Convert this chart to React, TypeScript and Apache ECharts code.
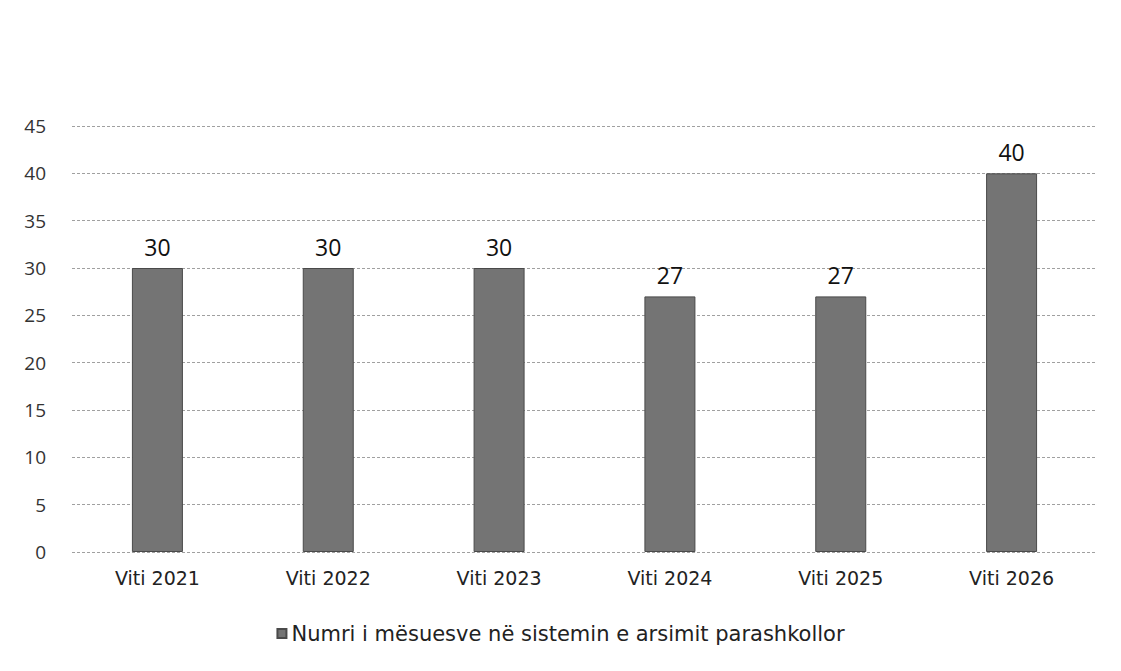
import React, { useEffect, useRef } from "react";
import * as echarts from "echarts";

const categories = ["Viti 2021", "Viti 2022", "Viti 2023", "Viti 2024", "Viti 2025", "Viti 2026"];
const values = [30, 30, 30, 27, 27, 40];
const seriesName = "Numri i mësuesve në sistemin e arsimit parashkollor";
const yMin = 0;
const yMax = 45;
const yInterval = 5;

export default function App() {
  const ref = useRef<HTMLDivElement>(null);
  useEffect(() => {
    document.body.style.margin = "0";
    const chart = echarts.init(ref.current!, null, { renderer: "svg" });
    chart.setOption({
      animation: false,
      backgroundColor: "#ffffff",
      textStyle: { fontFamily: "'Open Sans', sans-serif" },
      grid: { left: 72, right: 24, top: 126, bottom: 119, containLabel: false },
      xAxis: {
        type: "category",
        data: categories,
        axisLine: { show: false },
        axisTick: { show: false },
        axisLabel: { color: "#222", fontSize: 19, margin: 16, fontFamily: "'DejaVu Sans', sans-serif" },
      },
      yAxis: {
        type: "value",
        min: yMin,
        max: yMax,
        interval: yInterval,
        axisLine: { show: false },
        axisTick: { show: false },
        axisLabel: { color: "#333", fontSize: 19, margin: 26 },
        splitLine: { lineStyle: { color: "#a0a0a0", type: [3, 2], width: 1 } },
      },
      legend: {
        bottom: 22,
        left: "center",
        itemWidth: 9,
        itemHeight: 9,
        itemGap: 6,
        textStyle: { color: "#222", fontSize: 21, fontFamily: "'DejaVu Sans', sans-serif" },
        data: [{ name: seriesName, icon: "rect" }],
      },
      series: [
        {
          name: seriesName,
          type: "bar",
          data: values,
          barWidth: 51,
          itemStyle: { color: "#747474", borderColor: "#4a4a4a", borderWidth: 1 },
          label: {
            show: true,
            position: "top",
            distance: 10,
            color: "#111",
            fontSize: 23,
          },
        },
      ],
    });
    return () => chart.dispose();
  }, []);
  return <div ref={ref} style={{ width: 1121, height: 671 }} />;
}
